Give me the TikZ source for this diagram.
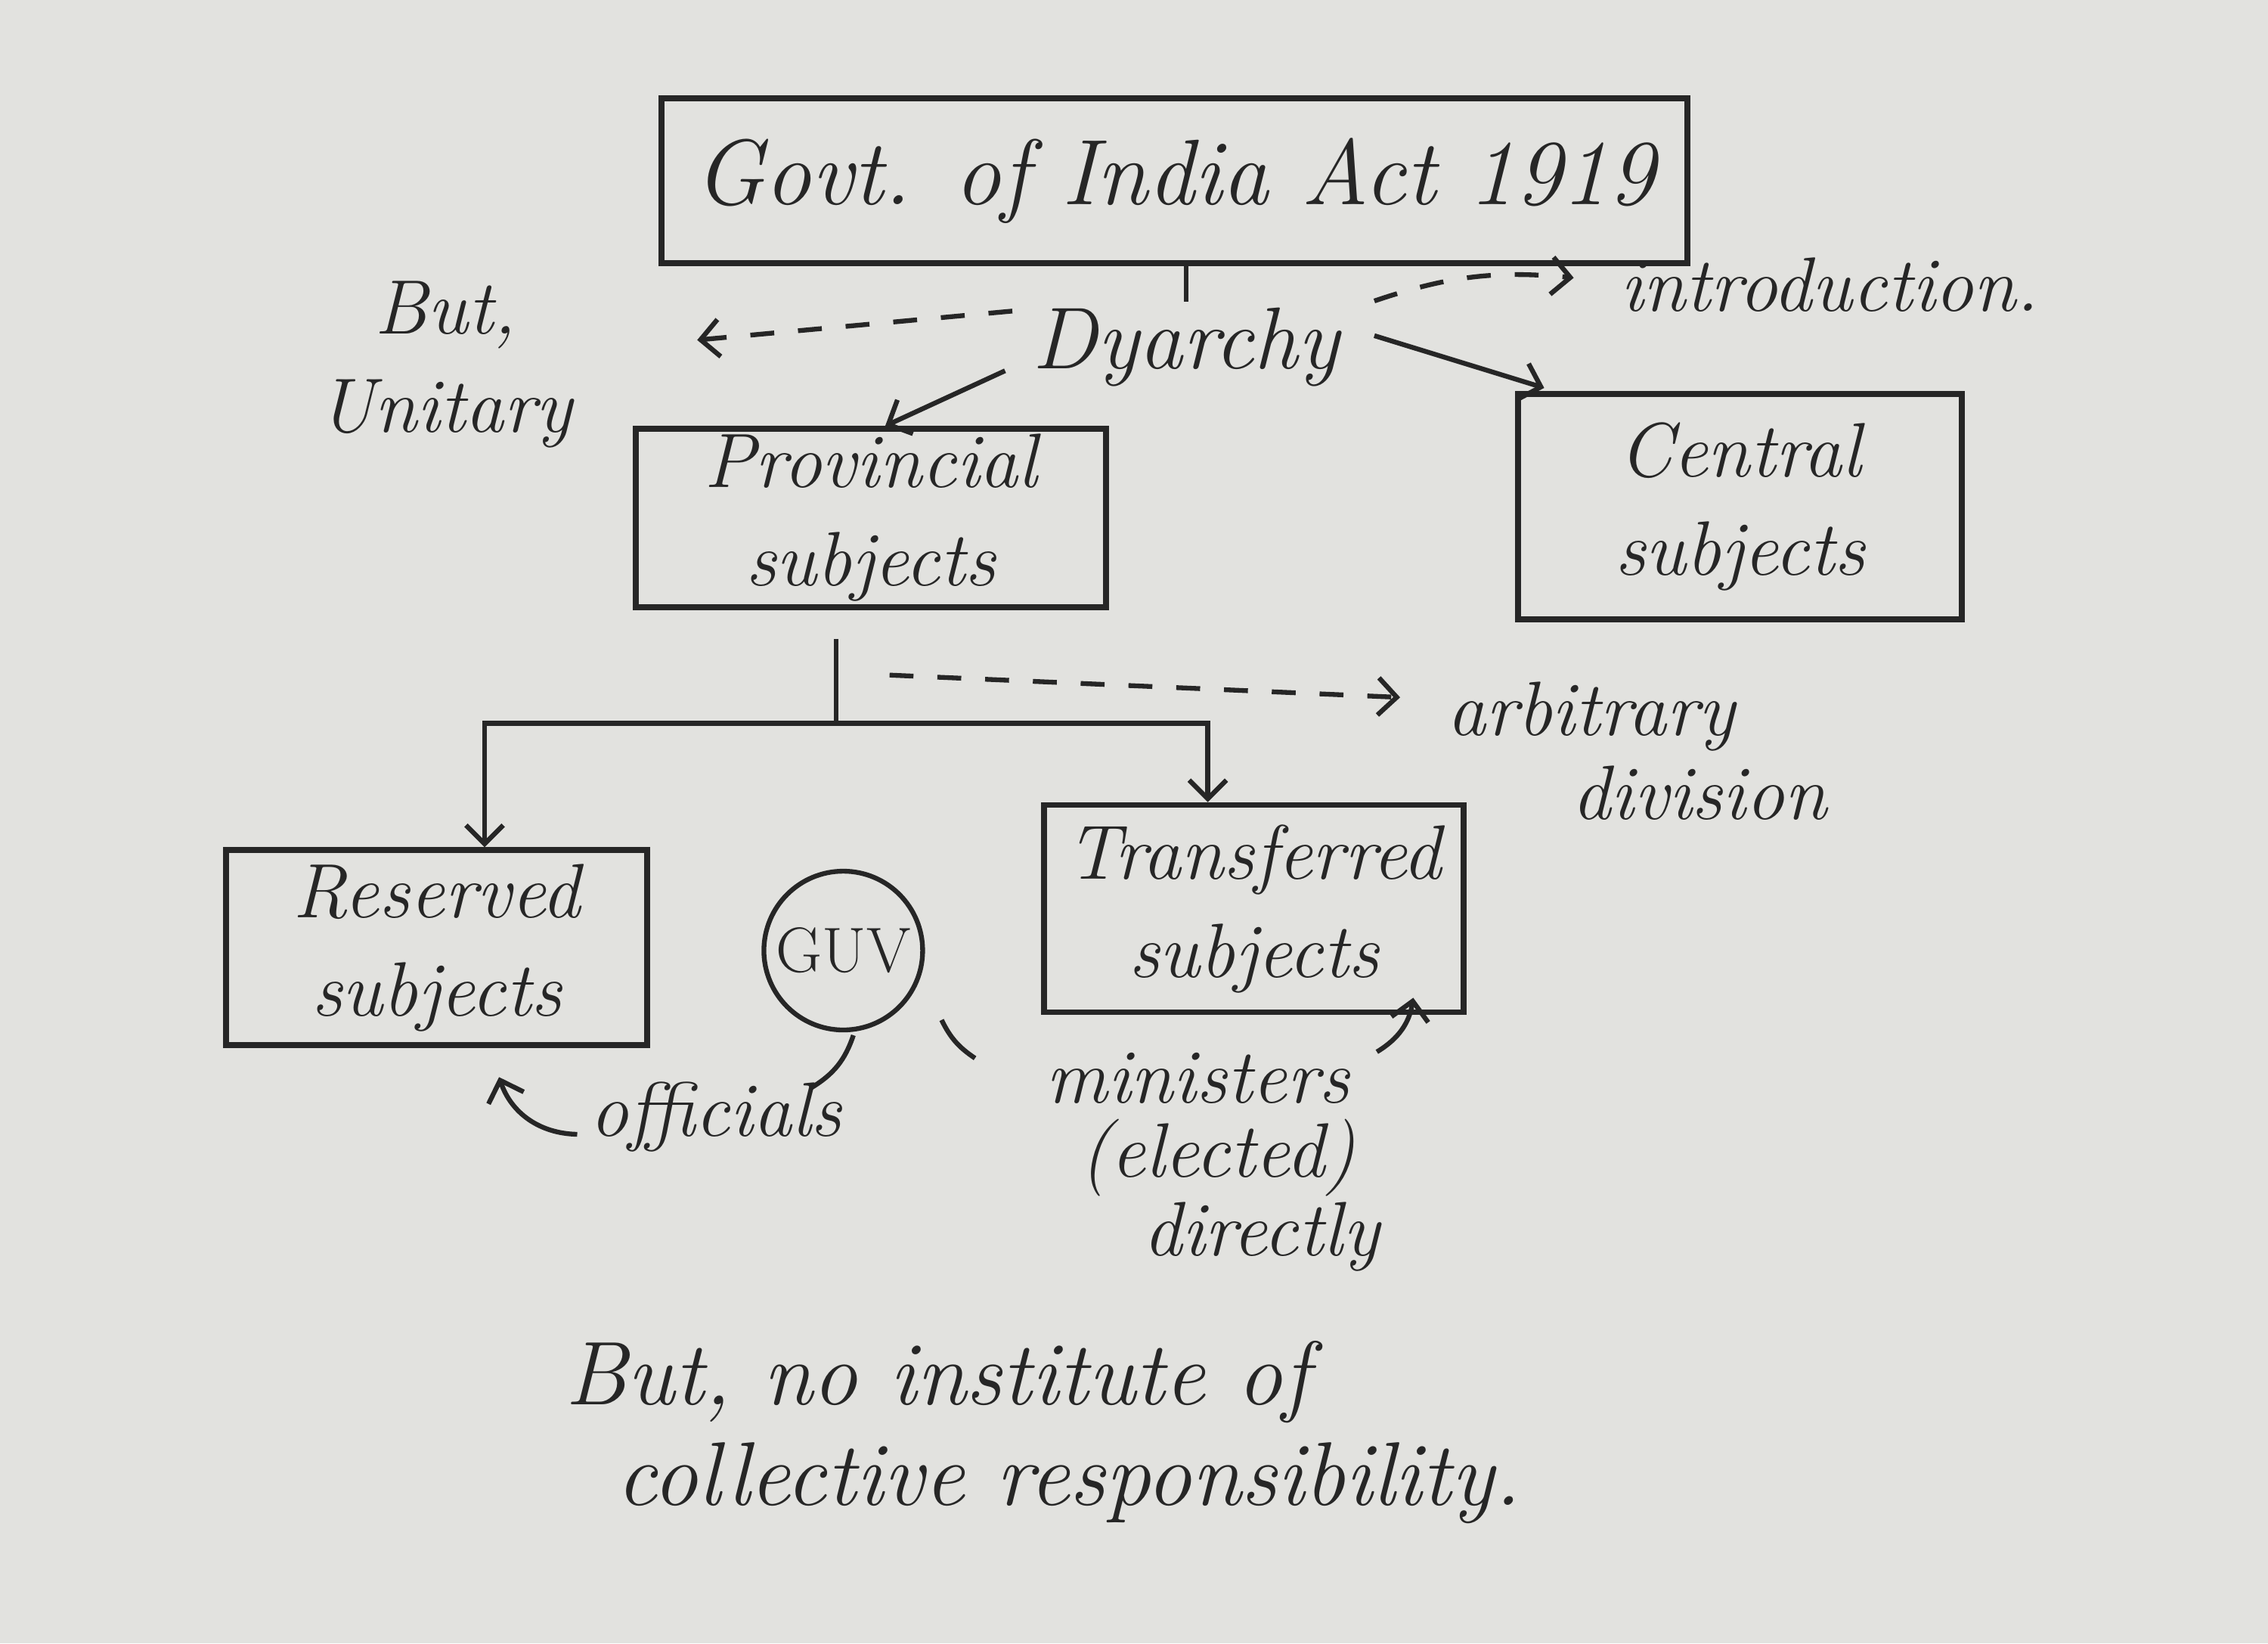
\documentclass[tikz,border=0pt]{standalone}
\usetikzlibrary{arrows.meta,calc}
\definecolor{paper}{RGB}{226,226,223}
\definecolor{ink}{RGB}{38,38,38}
\begin{document}
\begin{tikzpicture}[x=0.019133cm,y=-0.019133cm,
  hand/.style={font=\fontsize{29}{37}\selectfont\itshape, text=ink, inner sep=2pt},
  bigtext/.style={font=\fontsize{35}{40}\selectfont\itshape, text=ink},
  box/.style={draw=ink, line width=2.2pt, align=center, hand},
  conn/.style={draw=ink, line width=1.8pt},
  tip/.style={-{Straight Barb[length=7pt,width=14pt,line width=1.8pt]}},
  dashline/.style={dash pattern=on 9pt off 9pt}]
\fill[paper] (0,0) rectangle (1568,1136);
\useasboundingbox (0,0) rectangle (1568,1136);

% boxes
\node[box, bigtext, minimum width=13.57cm, minimum height=2.18cm] (title) at (812,125) {Govt. of India Act 1919};
\node[hand, font=\fontsize{33}{36}\selectfont\itshape] (dy) at (820,240) {Dyarchy};
\node[box, minimum width=6.22cm, minimum height=2.35cm] (prov) at (602,358) {Provincial\\subjects};
\node[box, minimum width=5.87cm, minimum height=2.98cm] (cent) at (1203,350) {Central\\subjects};
\node[box, minimum width=5.57cm, minimum height=2.58cm] (res) at (302,655) {Reserved\\subjects};
\node[box, minimum width=5.55cm, minimum height=2.74cm] (tr) at (867,628) {Transferred\\subjects};
\node[draw=ink, line width=1.8pt, circle, minimum size=2.1cm, hand, font=\fontsize{24}{28}\selectfont] (guv) at (583,657) {GUV};

% labels
\node[hand, align=center] (unit) at (308,252) {But,\\Unitary};
\node[hand] (intro) at (1265,197) {introduction.};
\node[hand] (arb1) at (1100,495) {arbitrary};
\node[hand] (arb2) at (1175,548) {division};
\node[hand] (offic) at (495,772) {officials};
\node[hand] (min1) at (828,745) {ministers};
\node[hand] (min2) at (842,800) {(elected)};
\node[hand] (min3) at (872,855) {directly};
\node[hand, font=\fontsize{34}{40}\selectfont\itshape] (foot1) at (648,955) {But, no institute of};
\node[hand, font=\fontsize{34}{40}\selectfont\itshape] (foot2) at (739,1025) {collective responsibility.};

% connectors
\coordinate (unitEnd) at (482,235);
\coordinate (introEnd) at (1088,192);
\coordinate (arbEnd) at (968,482);
\coordinate (split) at (578,500);

\draw[conn] (title.south -| dy.north) -- (dy.north);
\draw[conn, dashline, tip] ($(dy.west)+(-10,-25)$) -- (unitEnd);
\draw[conn, dashline, tip] ($(dy.east)+(20,-32)$) to[bend left=12] (introEnd);
\draw[conn, tip] ($(dy.south west)+(-15,-15)$) -- ($(prov.north)+(10,0)$);
\draw[conn, tip] ($(dy.east)+(20,-8)$) -- ($(cent.north west)+(20,-2)$);

\draw[conn] ($(prov.south)+(-24,20)$) -- (split);
\draw[conn, tip] (split) -| ($(res.north)+(33,0)$);
\draw[conn, tip] (split) -| ($(tr.north)+(-32,0)$);
\draw[conn, dashline, tip] ($(prov.south)+(13,45)$) -- (arbEnd);

\draw[conn] ($(guv.south)+(7,2)$) to[bend left=20] ($(offic.north east)+(-25,8)$);
\draw[conn, tip] ($(offic.west)+(-5,12)$) to[bend left=35] ($(res.south)+(43,20)$);
\draw[conn] ($(guv.south east)+(28,8)$) to[bend right=15] ($(min1.north west)+(-45,8)$);
\draw[conn, tip] ($(min1.east)+(15,-18)$) to[bend right=25] ($(tr.south east)+(-37,-12)$);
\end{tikzpicture}
\end{document}
